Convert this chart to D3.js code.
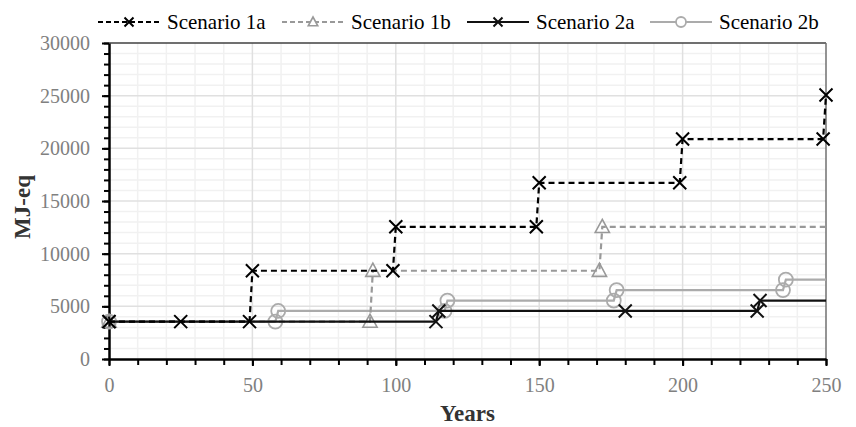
<!DOCTYPE html>
<html>
<head>
<meta charset="utf-8">
<script src="https://cdn.jsdelivr.net/npm/d3@7/dist/d3.min.js"></script>
<style>
  html, body { margin: 0; padding: 0; background: #fff; }
  svg { display: block; }
  svg text { font-family: "Liberation Serif", "Times New Roman", serif; }
</style>
</head>
<body>
<svg id="chart" width="856" height="427"></svg>
<script>
// Cumulative energy demand (MJ-eq) over time for four scenarios.
const seriesNames = ["Scenario 1a", "Scenario 1b", "Scenario 2a", "Scenario 2b"];

// Each series: years and values; marker flags mark where a point symbol is drawn.
const years1a  = [0, 25, 49, 50, 99, 100, 149, 150, 199, 200, 249, 250];
const values1a = [3550, 3550, 3550, 8380, 8380, 12550, 12550, 16730, 16730, 20880, 20880, 25060];
const marks1a  = [1, 1, 1, 1, 1, 1, 1, 1, 1, 1, 1, 1];

const years1b  = [0, 91, 92, 171, 172, 250];
const values1b = [3550, 3550, 8380, 8380, 12550, 12550];
const marks1b  = [1, 1, 1, 1, 1, 0];

const years2a  = [0, 114, 115, 180, 226, 227, 250];
const values2a = [3550, 3550, 4560, 4560, 4560, 5550, 5550];
const marks2a  = [1, 1, 1, 1, 1, 1, 0];

const years2b  = [0, 58, 59, 117, 118, 176, 177, 235, 236, 250];
const values2b = [3550, 3550, 4560, 4560, 5550, 5550, 6540, 6540, 7530, 7530];
const marks2b  = [1, 1, 1, 1, 1, 1, 1, 1, 1, 0];

const xTicks = [0, 50, 100, 150, 200, 250];
const yTicks = [0, 5000, 10000, 15000, 20000, 25000, 30000];

const svg = d3.select("#chart");
const margin = { left: 109, right: 30, top: 43, bottom: 68 };
const W = 856, H = 427;
const x = d3.scaleLinear().domain([0, 250]).range([margin.left, W - margin.right]);
const y = d3.scaleLinear().domain([0, 30000]).range([H - margin.bottom, margin.top]);

// grid: minor every 10 years / 1000 MJ, major at labelled ticks
const g = svg.append("g");
const minorX = d3.range(10, 250, 10).filter(v => v % 50 !== 0);
const minorY = d3.range(1000, 30000, 1000).filter(v => v % 5000 !== 0);
g.selectAll(".mx").data(minorX).join("line")
  .attr("x1", d => x(d)).attr("x2", d => x(d)).attr("y1", y(0)).attr("y2", y(30000))
  .attr("stroke", "#f1f1f1").attr("stroke-width", 1.5);
g.selectAll(".my").data(minorY).join("line")
  .attr("x1", x(0)).attr("x2", x(250)).attr("y1", d => y(d)).attr("y2", d => y(d))
  .attr("stroke", "#f1f1f1").attr("stroke-width", 1.5);
g.selectAll(".Mx").data(xTicks.slice(1, -1)).join("line")
  .attr("x1", d => x(d)).attr("x2", d => x(d)).attr("y1", y(0)).attr("y2", y(30000))
  .attr("stroke", "#e0e0e0").attr("stroke-width", 1.5);
g.selectAll(".My").data(yTicks.slice(1, -1)).join("line")
  .attr("x1", x(0)).attr("x2", x(250)).attr("y1", d => y(d)).attr("y2", d => y(d))
  .attr("stroke", "#e0e0e0").attr("stroke-width", 1.5);

// plot frame: top and right edges
svg.append("line").attr("x1", x(0)).attr("x2", x(250)).attr("y1", y(30000)).attr("y2", y(30000))
  .attr("stroke", "#404040").attr("stroke-width", 1.5);
svg.append("line").attr("x1", x(250)).attr("x2", x(250)).attr("y1", y(30000)).attr("y2", y(0))
  .attr("stroke", "#707070").attr("stroke-width", 1.5);

// axes
const xMinorAxis = svg.append("g").attr("transform", `translate(0,${y(0)})`)
  .call(d3.axisBottom(x).tickValues(d3.range(0, 251, 10)).tickSize(6).tickFormat(""));
xMinorAxis.select(".domain").remove();
xMinorAxis.selectAll("line").attr("stroke", "#000").attr("stroke-width", 2);

const xAxis = svg.append("g").attr("transform", `translate(0,${y(0)})`)
  .call(d3.axisBottom(x).tickValues(xTicks).tickSize(7).tickSizeOuter(0).tickPadding(12));
xAxis.attr("font-family", null);
xAxis.select(".domain").attr("stroke", "#000").attr("stroke-width", 2.5);
xAxis.selectAll("line").attr("stroke", "#000").attr("stroke-width", 2);
xAxis.selectAll("text").attr("fill", "#808080").style("font-size", "20px");

const yMinorAxis = svg.append("g").attr("transform", `translate(${x(0)},0)`)
  .call(d3.axisLeft(y).tickValues(d3.range(0, 30001, 1000)).tickSize(5).tickFormat(""));
yMinorAxis.select(".domain").remove();
yMinorAxis.selectAll("line").attr("stroke", "#000").attr("stroke-width", 2);

const yAxis = svg.append("g").attr("transform", `translate(${x(0)},0)`)
  .call(d3.axisLeft(y).tickValues(yTicks).tickSize(7).tickSizeOuter(0).tickPadding(12)
    .tickFormat(d3.format("d")));
yAxis.attr("font-family", null);
yAxis.select(".domain").attr("stroke", "#000").attr("stroke-width", 2.5);
yAxis.selectAll("line").attr("stroke", "#000").attr("stroke-width", 2);
yAxis.selectAll("text").attr("fill", "#808080").style("font-size", "20px");

// axis titles
svg.append("text").attr("x", (x(0) + x(250)) / 2).attr("y", 421)
  .attr("text-anchor", "middle").attr("font-weight", "bold").style("font-size", "23px")
  .attr("fill", "#333").text("Years");
svg.append("text").attr("transform", `translate(30,${(y(0) + y(30000)) / 2 + 6}) rotate(-90)`)
  .attr("text-anchor", "middle").attr("font-weight", "bold").style("font-size", "23px")
  .attr("fill", "#333").text("MJ-eq");

// series styles
const styles = [
  { years: years1a, values: values1a, marks: marks1a, color: "#000000", dash: "6,4", marker: "x" },
  { years: years1b, values: values1b, marks: marks1b, color: "#999999", dash: "6,4", marker: "tri" },
  { years: years2a, values: values2a, marks: marks2a, color: "#111111", dash: null, marker: "x" },
  { years: years2b, values: values2b, marks: marks2b, color: "#ababab", dash: null, marker: "circle" }
];

function drawMarker(sel, type, color, size) {
  if (type === "x") {
    const s = size;
    sel.append("path").attr("d", `M${-s},${-s}L${s},${s}M${-s},${s}L${s},${-s}`)
      .attr("stroke", color).attr("stroke-width", 2).attr("fill", "none");
  } else if (type === "tri") {
    const s = size;
    sel.append("path").attr("d", `M0,${-s}L${s * 0.95},${s * 0.75}L${-s * 0.95},${s * 0.75}Z`)
      .attr("stroke", color).attr("stroke-width", 1.6).attr("fill", "none");
  } else {
    sel.append("circle").attr("r", size).attr("stroke", color).attr("stroke-width", 1.8)
      .attr("fill", "none");
  }
}

// draw order: later series on top
const drawOrder = [3, 1, 2, 0];
const line = d3.line().x(d => x(d[0])).y(d => y(d[1]));
drawOrder.forEach(i => {
  const s = styles[i];
  const pts = s.years.map((yr, k) => [yr, s.values[k], s.marks[k]]);
  svg.append("path").datum(pts).attr("d", line)
    .attr("fill", "none").attr("stroke", s.color).attr("stroke-width", 2.2)
    .attr("stroke-dasharray", s.dash);
  const size = s.marker === "x" ? 6.5 : (s.marker === "tri" ? 7.5 : 7);
  pts.filter(p => p[2]).forEach(p => {
    const m = svg.append("g").attr("transform", `translate(${x(p[0])},${y(p[1])})`);
    drawMarker(m, s.marker, s.color, size);
  });
});

// legend
const legendX = [98, 282, 467, 650];
const legY = 22;
styles.forEach((s, i) => {
  const lg = svg.append("g").attr("transform", `translate(${legendX[i]},${legY})`);
  lg.append("line").attr("x1", 0).attr("x2", 62).attr("stroke", s.color)
    .attr("stroke-width", 2).attr("stroke-dasharray", s.dash ? "5,3" : null);
  const m = lg.append("g").attr("transform", "translate(31,0)");
  drawMarker(m, s.marker, s.color, s.marker === "x" ? 4.5 : 5);
  if (s.marker !== "x") m.select("circle,path").attr("fill", "#fff");
  lg.append("text").attr("x", 69).attr("y", 0).attr("dy", "0.35em")
    .style("font-size", "21px").attr("fill", "#000").text(seriesNames[i]);
});
</script>
</body>
</html>
